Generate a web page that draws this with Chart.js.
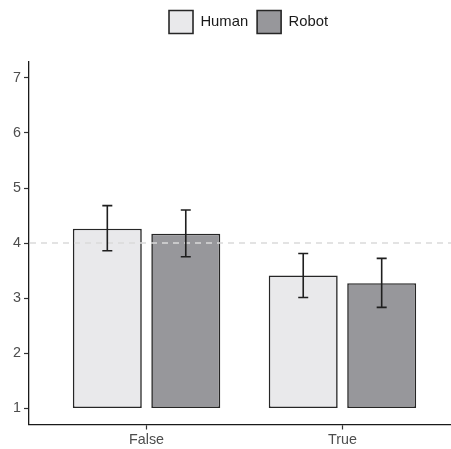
<!DOCTYPE html>
<html>
<head>
<meta charset="utf-8">
<script src="https://cdn.jsdelivr.net/npm/chart.js@4.4.0/dist/chart.umd.min.js"></script>
<style>
  html, body { margin: 0; padding: 0; background: #fff; overflow: hidden; }
  #wrap { position: relative; width: 470px; height: 449px; }
</style>
</head>
<body>
<div id="wrap"><canvas id="c"></canvas></div>
<script>
// ---- data ----
const categories = ['False', 'True'];
const categoryPositions = [1, 2];
const seriesNames = ['Human', 'Robot'];
const humanMeans = [4.26, 3.41];
const robotMeans = [4.17, 3.27];
const humanLow = [3.86, 3.01];
const humanHigh = [4.68, 3.81];
const robotLow = [3.75, 2.83];
const robotHigh = [4.60, 3.72];
const barBase = 1;
const yTicks = [1, 2, 3, 4, 5, 6, 7];
const referenceValue = 4;

const errLow = [humanLow, robotLow];
const errHigh = [humanHigh, robotHigh];

function toPoints(means) {
  return means.map((m, i) => ({ x: categoryPositions[i], y: [barBase, m] }));
}

const extrasPlugin = {
  id: 'extras',
  beforeInit(chart) {
    const lg = chart.legend;
    if (lg) {
      const origFit = lg.fit.bind(lg);
      lg.fit = function () { origFit(); this.height = 60; };
    }
  },
  afterLayout(chart) {
    const lg = chart.legend;
    if (lg) { lg.left += 18.5; lg.right += 18.5; }
  },
  afterDatasetsDraw(chart) {
    const ctx = chart.ctx;
    const ys = chart.scales.y;
    const area = chart.chartArea;
    // dashed reference line
    const yr = ys.getPixelForValue(referenceValue);
    ctx.save();
    ctx.strokeStyle = '#DADADA';
    ctx.lineWidth = 1.5;
    ctx.setLineDash([6, 5]);
    ctx.beginPath();
    ctx.moveTo(area.left + 1, yr);
    ctx.lineTo(area.right, yr);
    ctx.stroke();
    ctx.restore();
    // error bars
    ctx.save();
    ctx.strokeStyle = '#1f1f1f';
    ctx.lineWidth = 1.6;
    chart.data.datasets.forEach((ds, di) => {
      const meta = chart.getDatasetMeta(di);
      meta.data.forEach((bar, j) => {
        const x = bar.x;
        const y1 = ys.getPixelForValue(errHigh[di][j]);
        const y2 = ys.getPixelForValue(errLow[di][j]);
        ctx.beginPath();
        ctx.moveTo(x, y1); ctx.lineTo(x, y2);
        ctx.moveTo(x - 5, y1); ctx.lineTo(x + 5, y1);
        ctx.moveTo(x - 5, y2); ctx.lineTo(x + 5, y2);
        ctx.stroke();
      });
    });
    ctx.restore();
  }
};

new Chart(document.getElementById('c'), {
  type: 'bar',
  data: {
    datasets: [
      {
        label: seriesNames[0],
        data: toPoints(humanMeans),
        backgroundColor: '#E9E9EB',
        borderColor: '#262626',
        borderWidth: 1.6,
        borderSkipped: false
      },
      {
        label: seriesNames[1],
        data: toPoints(robotMeans),
        backgroundColor: '#97979B',
        borderColor: '#262626',
        borderWidth: 1.6,
        borderSkipped: false
      }
    ]
  },
  options: {
    responsive: true,
    maintainAspectRatio: false,
    animation: false,
    categoryPercentage: 0.801,
    barPercentage: 0.879,
    layout: { padding: { left: 0, right: 10, top: 1.5, bottom: 0 } },
    plugins: {
      tooltip: { enabled: false },
      legend: {
        position: 'top',
        labels: {
          boxWidth: 24,
          boxHeight: 23,
          padding: 9,
          color: '#1a1a1a',
          font: { family: 'Liberation Sans, Arial, sans-serif', size: 14.8 }
        }
      }
    },
    scales: {
      x: {
        type: 'linear',
        min: 0.4,
        max: 2.6,
        offset: false,
        afterBuildTicks(scale) {
          scale.ticks = categoryPositions.map(v => ({ value: v }));
        },
        afterFit(scale) { scale.height = 24.5; },
        grid: { offset: false, drawOnChartArea: false, drawTicks: true, tickLength: 5, color: '#333333', tickWidth: 1.2 },
        border: { display: true, color: '#1a1a1a', width: 1.3 },
        ticks: {
          padding: 2,
          color: '#4D4D4D',
          font: { family: 'Liberation Sans, Arial, sans-serif', size: 14.3 },
          callback(v) {
            const i = categoryPositions.indexOf(v);
            return i >= 0 ? categories[i] : '';
          }
        }
      },
      y: {
        type: 'linear',
        min: 0.7,
        max: 7.3,
        afterBuildTicks(scale) {
          scale.ticks = yTicks.map(v => ({ value: v }));
        },
        afterFit(scale) { scale.width = 29; },
        grid: { drawOnChartArea: false, drawTicks: true, tickLength: 5, color: '#333333', tickWidth: 1.2 },
        border: { display: true, color: '#1a1a1a', width: 1.3 },
        ticks: {
          padding: 3,
          color: '#4D4D4D',
          font: { family: 'Liberation Sans, Arial, sans-serif', size: 14.3 }
        }
      }
    }
  },
  plugins: [extrasPlugin]
});
</script>
</body>
</html>
